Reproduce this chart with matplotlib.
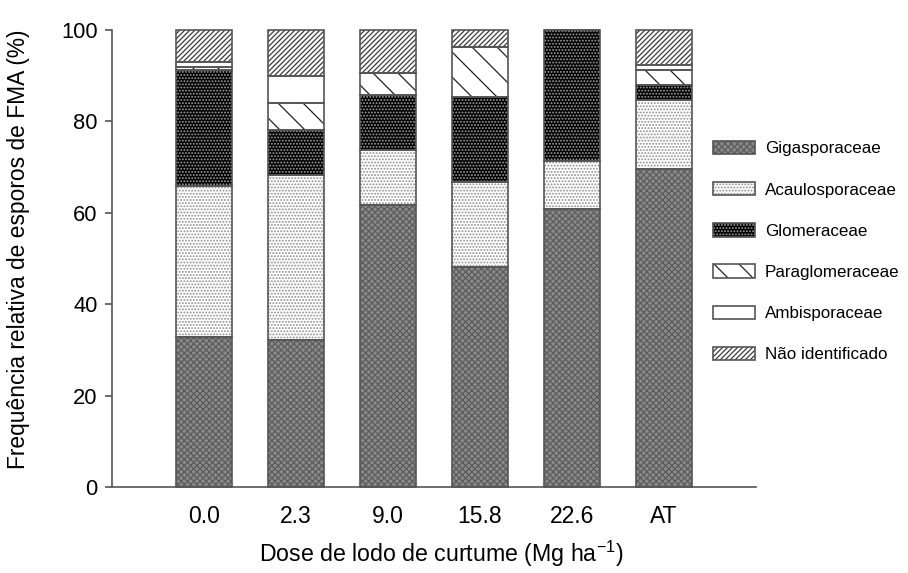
import matplotlib
matplotlib.use("Agg")
import matplotlib.pyplot as plt
import numpy as np

plt.rcParams['font.family'] = ['Liberation Sans', 'DejaVu Sans']
plt.rcParams['mathtext.fontset'] = 'custom'
plt.rcParams['mathtext.rm'] = 'Liberation Sans'
plt.rcParams['mathtext.default'] = 'rm'
plt.rcParams['hatch.linewidth'] = 0.6

doses = ["0.0", "2.3", "9.0", "15.8", "22.6", "AT"]
families = ["Gigasporaceae", "Acaulosporaceae", "Glomeraceae",
            "Paraglomeraceae", "Ambisporaceae", "Não identificado"]

gigasporaceae    = [32.8, 32.2, 61.7, 48.1, 60.8, 69.5]
acaulosporaceae  = [33.1, 36.1, 12.0, 18.6, 10.6, 15.2]
glomeraceae      = [25.3,  9.8, 12.1, 18.7, 28.6,  3.3]
paraglomeraceae  = [ 0.7,  5.9,  4.7, 10.9,  0.0,  3.2]
ambisporaceae    = [ 1.0,  6.0,  0.0,  0.0,  0.0,  1.1]
nao_identificado = [ 7.1, 10.0,  9.5,  3.7,  0.0,  7.7]

series = [gigasporaceae, acaulosporaceae, glomeraceae,
          paraglomeraceae, ambisporaceae, nao_identificado]

# fill colour, hatch pattern, hatch colour for each family
styles = [
    ("#8a8a8a", "xxxxxxxx", "#5c5c5c"),
    ("#ffffff", "........", "#8f8f8f"),
    ("#000000", "........", "#a0a0a0"),
    ("#ffffff", "\\\\", "#222222"),
    ("#ffffff", "", "#ffffff"),
    ("#ffffff", "//////////", "#3a3a3a"),
]
edge = "#555555"

fig = plt.figure(figsize=(908 / 150, 573 / 150), dpi=150)
ax = fig.add_axes([112 / 908, 1 - 487 / 573, 644 / 908, 457 / 573])

x = np.arange(len(doses))
width = 0.61
bottom = np.zeros(len(doses))
handles = []
for vals, (fc, hatch, hc) in zip(series, styles):
    vals = np.array(vals)
    ax.bar(x, vals, width, bottom=bottom, color=fc, hatch=hatch,
           edgecolor=hc, linewidth=0, clip_on=False, zorder=2)
    ax.bar(x, vals, width, bottom=bottom, facecolor="none",
           edgecolor=edge, linewidth=0.8, clip_on=False, zorder=3)
    bottom += vals
    h1 = plt.Rectangle((0, 0), 1, 1, facecolor=fc, hatch=hatch,
                       edgecolor=hc, linewidth=0)
    h2 = plt.Rectangle((0, 0), 1, 1, facecolor="none",
                       edgecolor=edge, linewidth=0.8)
    handles.append((h1, h2))

ax.set_xlim(-1, 6)
ax.set_ylim(0, 100)
ax.set_xticks(x)
ax.set_xticklabels(doses)
ax.set_yticks([0, 20, 40, 60, 80, 100])
ax.tick_params(axis="x", length=0, pad=8.5, labelsize=11)
ax.tick_params(axis="y", length=3.4, width=0.8, color=edge, pad=3.5,
               labelsize=10.5, direction="out")
for s in ["top", "right"]:
    ax.spines[s].set_visible(False)
for s in ["left", "bottom"]:
    ax.spines[s].set_color(edge)
    ax.spines[s].set_linewidth(0.8)

ax.set_xlabel("Dose de lodo de curtume (Mg ha$^{-1}$)", fontsize=11.1)
ax.xaxis.set_label_coords(0.511, -0.114)
ax.set_ylabel("Frequência relativa de esporos de FMA (%)", fontsize=10.9)
ax.yaxis.set_label_coords(-0.128, 0.521)

fig.legend(handles, families, loc="upper left",
           bbox_to_anchor=(706 / 908, 1 - 134 / 573),
           frameon=False, fontsize=8.2, handlelength=2.46,
           handleheight=0.82, labelspacing=1.5, handletextpad=0.6,
           borderaxespad=0)

fig.savefig("out.png", dpi=150)
